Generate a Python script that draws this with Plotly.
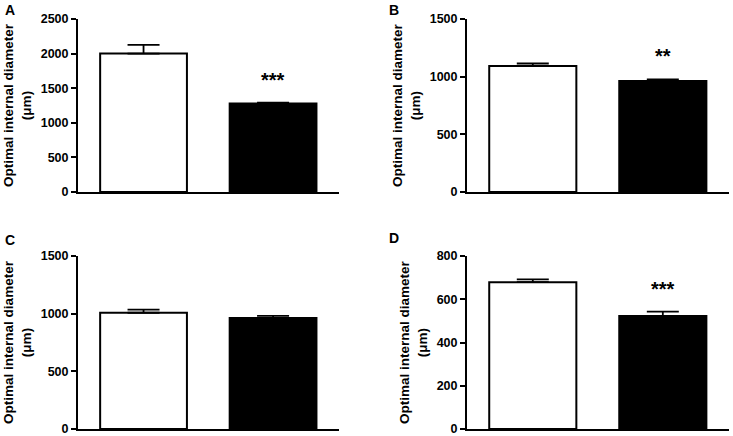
import plotly.graph_objects as go
from plotly.subplots import make_subplots

# two groups per panel: white = control, black = treated
groups = ["Control", "Treated"]
panels = ["A", "B", "C", "D"]
means = {
    "A": [2000, 1280],
    "B": [1092, 962],
    "C": [1008, 963],
    "D": [679, 523],
}
errors = {
    "A": [125, 10],
    "B": [22, 15],
    "C": [27, 18],
    "D": [13, 20],
}
stars = {"A": "***", "B": "**", "C": "", "D": "***"}
y_max = {"A": 2500, "B": 1500, "C": 1500, "D": 800}
y_step = {"A": 500, "B": 500, "C": 500, "D": 200}

W, H = 733, 436
FONT = "Liberation Sans, Arial, sans-serif"

fig = make_subplots(rows=2, cols=2)

# panel boxes in pixels (left, right, top, bottom)
boxes = {
    "A": (78, 339, 19, 192),
    "B": (467, 729, 19, 192),
    "C": (78, 339, 256, 429),
    "D": (467, 729, 256, 429),
}
letter_pos = {"A": (10, 10), "B": (394, 10), "C": (10, 240), "D": (394, 238)}

for i, p in enumerate(panels):
    row, col = i // 2 + 1, i % 2 + 1
    fig.add_trace(go.Bar(
        x=[0, 1], y=means[p],
        width=0.67,
        marker=dict(color=["white", "black"], line=dict(color="black", width=2)),
        error_y=dict(type="data", symmetric=False, array=errors[p],
                     arrayminus=[0, 0], color="black", thickness=1.8, width=16),
        showlegend=False, hoverinfo="y",
    ), row=row, col=col)

    l, r, t, b = boxes[p]
    xa = "xaxis" if i == 0 else f"xaxis{i + 1}"
    ya = "yaxis" if i == 0 else f"yaxis{i + 1}"
    fig.layout[xa].update(
        domain=[l / W, r / W], range=[-0.506, 1.509], automargin=False,
        showticklabels=False, ticks="", showgrid=False, zeroline=False,
        showline=True, linecolor="black", linewidth=2,
    )
    fig.layout[ya].update(
        domain=[1 - b / H, 1 - t / H], range=[0, y_max[p]], automargin=False,
        tickmode="linear", tick0=0, dtick=y_step[p], ticklabeloverflow="allow",
        ticks="outside", ticklen=5, tickwidth=2, tickcolor="black",
        showgrid=False, zeroline=False,
        showline=True, linecolor="black", linewidth=2,
        tickfont=dict(family=FONT, size=12.5, color="black", weight="bold"),
        title=dict(text="Optimal internal diameter<br>(μm)", standoff=6,
                   font=dict(family=FONT, size=13.5, color="black", weight="bold")),
    )

    xref = "x" if i == 0 else f"x{i + 1}"
    yref = "y" if i == 0 else f"y{i + 1}"
    if stars[p]:
        fig.add_annotation(
            x=1, y=means[p][1] + errors[p][1], xref=xref, yref=yref,
            text=stars[p], showarrow=False, yshift=23, yanchor="middle",
            font=dict(family=FONT, size=20, color="black", weight="bold"),
        )
    lx, ly = letter_pos[p]
    fig.add_annotation(
        x=lx / W, y=1 - ly / H, xref="paper", yref="paper",
        text=p, showarrow=False, xanchor="center", yanchor="middle",
        font=dict(family=FONT, size=14, color="black", weight="bold"),
    )

fig.update_layout(
    width=W, height=H,
    margin=dict(l=0, r=0, t=0, b=0, autoexpand=False),
    paper_bgcolor="white", plot_bgcolor="white",
    bargap=0.3,
)

fig.write_html("out.html", config={"displayModeBar": False},
               post_script="document.body.style.margin='0';")
